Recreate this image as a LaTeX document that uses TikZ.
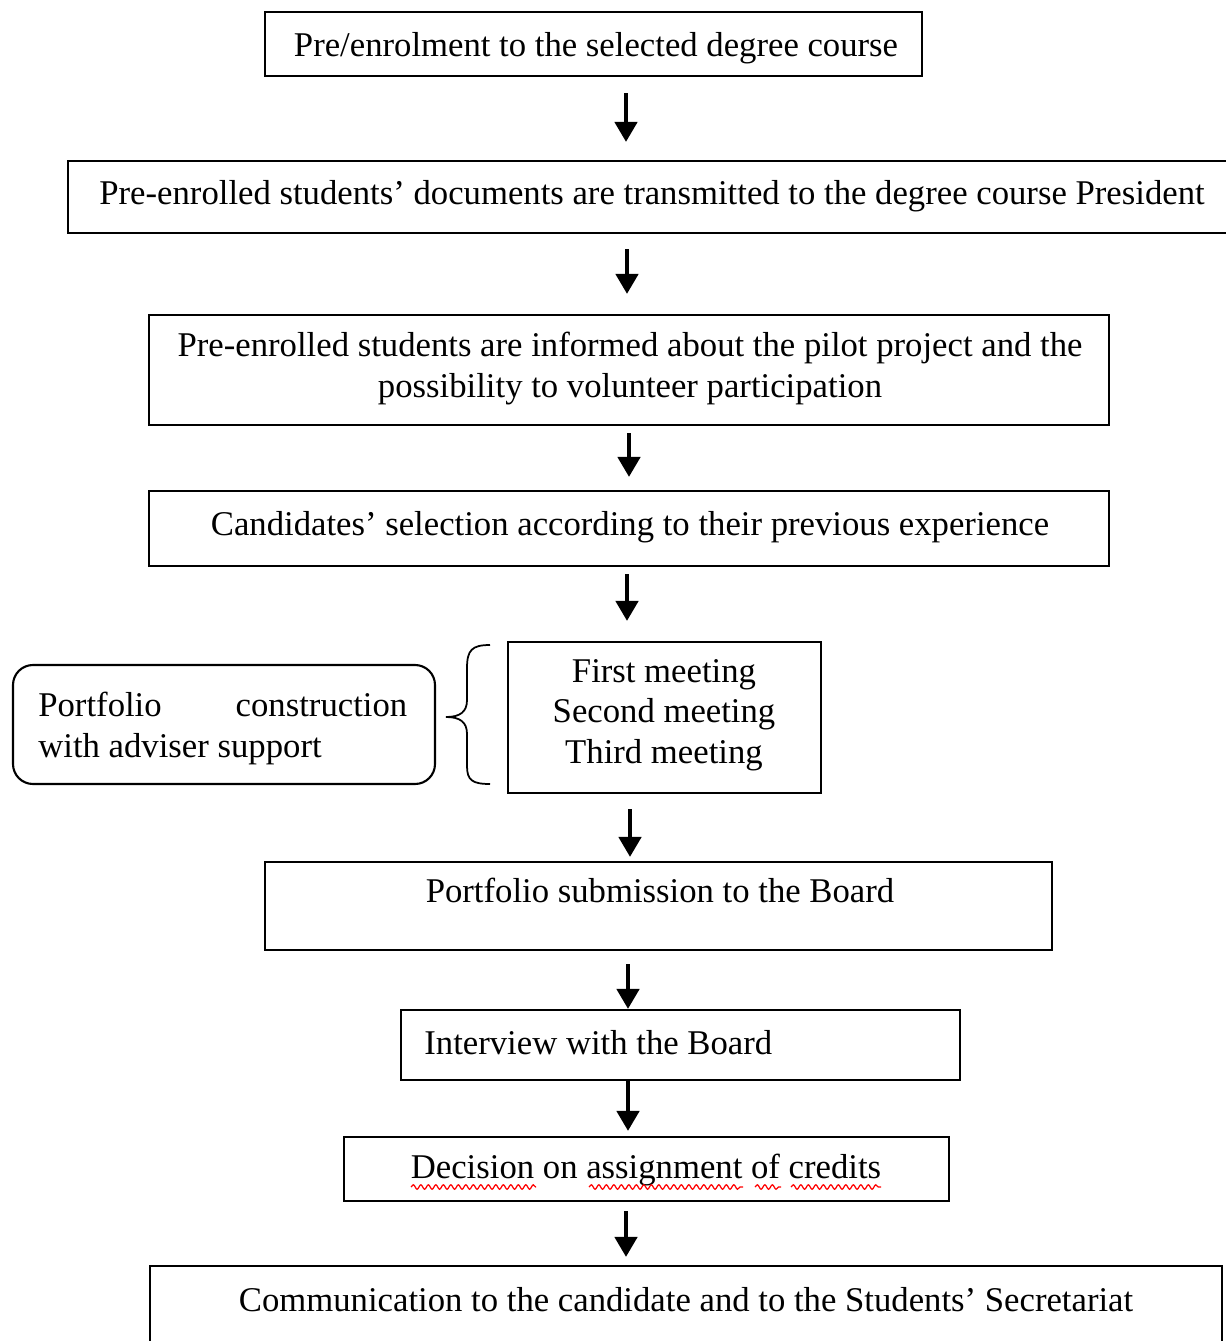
\documentclass[tikz,border=0pt]{standalone}
\usepackage{fontspec}
\setmainfont{Liberation Serif}
\usetikzlibrary{arrows.meta,fit,decorations.pathmorphing}
\begin{document}
\begin{tikzpicture}[x=0.02cm, y=-0.02cm,
  box/.style={draw, line width=1.2pt, inner sep=0pt},
  txt/.style={font=\fontsize{19.75pt}{22.8pt}\selectfont, inner sep=0pt, anchor=base, align=center},
  arr/.style={line width=0.09cm, -{Triangle[width=0.44cm,length=0.4cm]}},
  wave/.style={red, line width=0.7pt, decorate,
    decoration={snake, amplitude=0.045cm, segment length=0.15cm}}]
\useasboundingbox (0,0) rectangle (1226,1341);
\clip (0,0) rectangle (1226,1341);

% process boxes
\node[box, fit={(265,12) (922,76)}] (b1) {};
\node[box, fit={(68,161) (1240,233)}] (b2) {};
\node[box, fit={(149,315) (1109,425)}] (b3) {};
\node[box, fit={(149,491) (1109,566)}] (b4) {};
\node[box, fit={(508,642) (821,793)}] (bm) {};
\node[box, rounded corners=0.4cm, fit={(13,665) (435,784)}] (rb) {};
\node[box, fit={(265,862) (1052,950)}] (b6) {};
\node[box, fit={(401,1010) (960,1080)}] (b7) {};
\node[box, fit={(344,1137) (949,1201)}] (b8) {};
\node[box, fit={(150,1266) (1222,1370)}] (b9) {};

% box texts
\node[txt] (t1) at (596,57) {Pre/enrolment to the selected degree course};
\node[txt] (t2) at (652,205) {Pre-enrolled students’ documents are transmitted to the degree course President};
\node[txt] (t3) at (630,397) {Pre-enrolled students are informed about the pilot project and the\\possibility to volunteer participation};
\node[txt] (t4) at (630,535) {Candidates’ selection according to their previous experience};
\node[txt] (tm) at (664,763) {First meeting\\Second meeting\\Third meeting};
\node[txt, anchor=base west, align=left] (tr) at (38,757) {\makebox[7.38cm][s]{Portfolio construction}\\with adviser support};
\node[txt] (t6) at (660,902) {Portfolio submission to the Board};
\node[txt, anchor=base west] (t7) at (424,1054) {Interview with the Board};
\node[txt] (t8) at (646,1178) {Decision on assignment of credits};
\node[txt] (t9) at (686,1311) {Communication to the candidate and to the Students’ Secretariat};

% spell-check underlines
\draw[wave] (411,1187) -- (536,1187);
\draw[wave] (589,1187) -- (743,1187);
\draw[wave] (755,1187) -- (781,1187);
\draw[wave] (791,1187) -- (881,1187);

% curly brace grouping the meetings
\draw[line width=1pt] (490,645) .. controls (472,645) and (467,650) .. (467,668)
  -- (467,700) .. controls (467,712) and (460,717) .. (446,717)
  .. controls (460,717) and (467,722) .. (467,734)
  -- (467,766) .. controls (467,780) and (472,784) .. (490,784);

% arrow columns
\coordinate (a1) at (626,0);
\coordinate (a2) at (627,0);
\coordinate (a3) at (629,0);
\coordinate (a4) at (627,0);
\coordinate (a5) at (630,0);
\coordinate (a6) at (628,0);
\coordinate (a7) at (628,0);
\coordinate (a8) at (626,0);

\draw[arr, shorten <=0.32cm, shorten >=0.36cm] (b1.south -| a1) -- (b2.north -| a1);
\draw[arr, shorten <=0.30cm, shorten >=0.40cm] (b2.south -| a2) -- (b3.north -| a2);
\draw[arr, shorten <=0.14cm, shorten >=0.26cm] (b3.south -| a3) -- (b4.north -| a3);
\draw[arr, shorten <=0.14cm, shorten >=0.40cm] (b4.south -| a4) -- (bm.north -| a4);
\draw[arr, shorten <=0.30cm, shorten >=0.08cm] (bm.south -| a5) -- (b6.north -| a5);
\draw[arr, shorten <=0.26cm] (b6.south -| a6) -- (b7.north -| a6);
\draw[arr, shorten >=0.10cm] (b7.south -| a7) -- (b8.north -| a7);
\draw[arr, shorten <=0.18cm, shorten >=0.16cm] (b8.south -| a8) -- (b9.north -| a8);
\end{tikzpicture}
\end{document}
